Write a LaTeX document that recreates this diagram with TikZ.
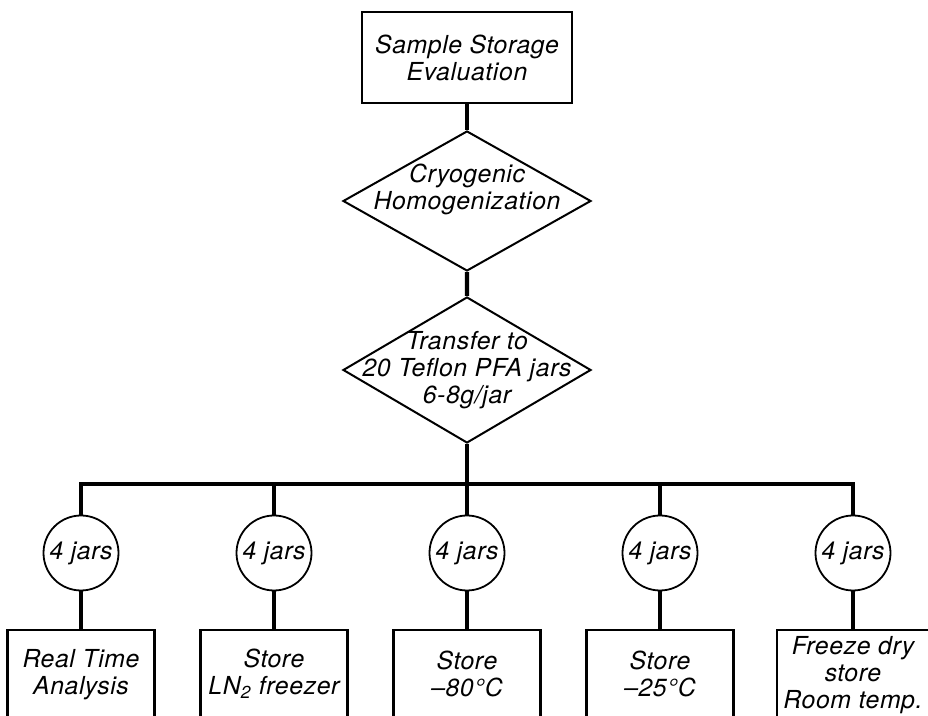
\documentclass[tikz,border=0pt]{standalone}
\usepackage{fontspec}
\setmainfont{TeX Gyre Heros}[LetterSpace=2.5]
\usetikzlibrary{shapes.geometric}

\begin{document}
\begin{tikzpicture}[x=0.5pt, y=0.5pt,
  font=\fontsize{12.4}{13.5}\selectfont\itshape,
  every node/.style={align=center},
  topbox/.style={draw, line width=1.2pt, minimum width=105pt, minimum height=45.5pt},
  dia/.style={draw, diamond, line width=1pt, minimum width=124pt, minimum height=70pt, inner sep=0pt},
  jars/.style={draw, circle, line width=0.9pt, minimum size=37.5pt, inner sep=0pt},
  storebox/.style={draw, line width=1.2pt, anchor=north, minimum width=73.5pt, minimum height=44pt},
  edge from parent/.style={draw, line width=2.2pt},
  level 1/.style={level distance=71.75pt},
  level 2/.style={level distance=84.5pt},
  level 3/.style={level distance=91.5pt, sibling distance=96.5pt,
    edge from parent path={(\tikzparentnode.south) -- ++(0,-20pt) -| (\tikzchildnode.north)}},
  level 4/.style={level distance=38pt,
    edge from parent path={(\tikzparentnode.south) -- (\tikzchildnode.north)}}]
\clip (0,0) rectangle (928,-716);
\node[topbox] (eval) at (467,-57.5) {Sample Storage\\Evaluation}
  child {node[dia, label={[yshift=6pt]center:Cryogenic\\Homogenization}] (cryo) {}
    child {node[dia, minimum height=73pt, label={center:Transfer to\\20 Teflon PFA jars\\6-8g/jar}] (transfer) {}
      child {node[jars] (j1) {4 jars}
        child {node[storebox] (s1) {Real Time\\Analysis}}}
      child {node[jars] (j2) {4 jars}
        child {node[storebox] (s2) {Store\\LN\textsubscript{2} freezer}}}
      child {node[jars] (j3) {4 jars}
        child {node[storebox] (s3) {Store\\--80°C}}}
      child {node[jars] (j4) {4 jars}
        child {node[storebox] (s4) {Store\\--25°C}}}
      child {node[jars] (j5) {4 jars}
        child {node[storebox] (s5) {Freeze dry\\store\\Room temp.}}}
    }
  };
\end{tikzpicture}
\end{document}
